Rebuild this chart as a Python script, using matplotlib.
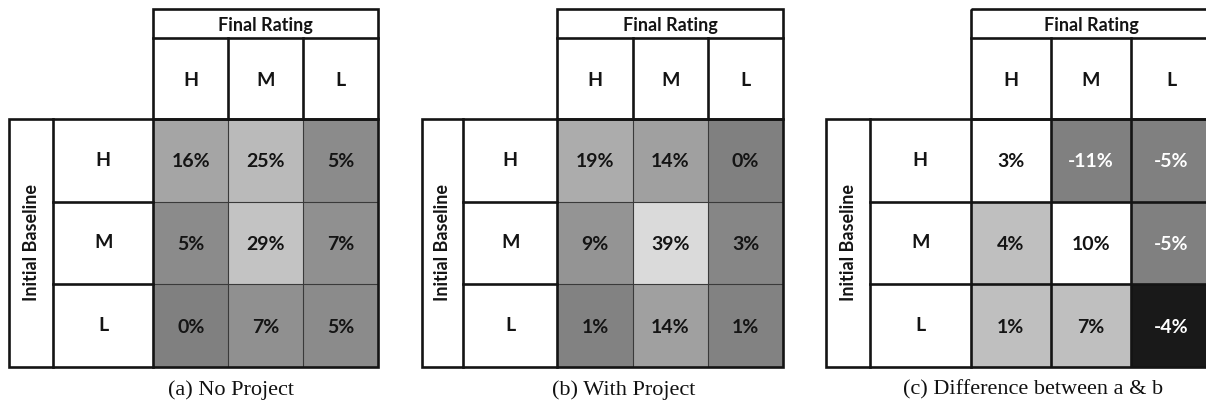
import numpy as np
import matplotlib
matplotlib.use("Agg")
import matplotlib.pyplot as plt
from matplotlib.colors import LinearSegmentedColormap, Normalize, ListedColormap, BoundaryNorm
from matplotlib.patches import Rectangle

# ---------------------------------------------------------------- data
ratings = ["H", "M", "L"]
col_title = "Final Rating"
row_title = "Initial Baseline"

no_project = np.array([[16, 25, 5],
                       [5, 29, 7],
                       [0, 7, 5]])
with_project = np.array([[19, 14, 0],
                         [9, 39, 3],
                         [1, 14, 1]])
difference = np.array([[3, -11, -5],
                       [4, 10, -5],
                       [1, 7, -4]])
# shading class of each cell in the difference table
diff_class = [["same", "down", "down"],
              ["up", "same", "down"],
              ["up", "up", "low"]]

captions = ["(a) No Project", "(b) With Project", "(c) Difference between a & b"]

# ---------------------------------------------------------------- styles
W, H = 1206, 412
TOP, FR_BOT, HDR_BOT, ROW_H, CAP_Y = 9.0, 37.7, 119.0, 82.6, 390.0
panels = [
    dict(outer=9.0, div=53.3, left=153.3, cw=75.0, cap_x=231),
    dict(outer=421.7, div=463.3, left=557.3, cw=75.3, cap_x=624),
    dict(outer=826.0, div=870.0, left=970.5, cw=80.3, cap_x=1033),
]
THICK = 1.9
THIN = 0.8
INK = "#141414"
TITLE_FONT = dict(family=["Lato", "DejaVu Sans"], weight="bold", size=13)
LABEL_FONT = dict(family=["Lato", "DejaVu Sans"], weight="bold", size=14)

gray_cmap = LinearSegmentedColormap.from_list("share", ["#808080", "#ffffff"])
gray_norm = Normalize(vmin=0, vmax=55)
class_order = ["low", "down", "up", "same"]
class_cmap = ListedColormap(["#191919", "#808080", "#bfbfbf", "#ffffff"])
class_norm = BoundaryNorm(np.arange(len(class_order) + 1) - 0.5, len(class_order))

fig = plt.figure(figsize=(W / 100, H / 100), dpi=100)


def draw_panel(p, values, fills, cmap, norm, caption, thick_grid):
    cw = p["cw"]
    bottom_px = HDR_BOT + 3 * ROW_H
    right_px = p["left"] + 3 * cw
    ax = fig.add_axes([p["outer"] / W, 1 - bottom_px / H,
                       (right_px - p["outer"]) / W, (bottom_px - TOP) / H])
    x_outer = (p["outer"] - p["left"]) / cw
    x_div = (p["div"] - p["left"]) / cw
    y_top = (TOP - HDR_BOT) / ROW_H
    y_fr = (FR_BOT - HDR_BOT) / ROW_H
    ax.set_xlim(x_outer, 3)
    ax.set_ylim(3, y_top)
    ax.axis("off")

    n = len(ratings)
    ax.pcolormesh(np.arange(n + 1), np.arange(n + 1), fills, cmap=cmap, norm=norm)

    # inner grid of the value cells
    if thick_grid:
        gkw = dict(color=INK, lw=THICK)
    else:
        gkw = dict(color="#3a3a3a", lw=THIN)
    ax.vlines(np.arange(1, n), 0, n, clip_on=False, zorder=3, **gkw)
    ax.hlines(np.arange(1, n), 0, n, clip_on=False, zorder=3, **gkw)

    tkw = dict(color=INK, lw=THICK, clip_on=False, zorder=4, capstyle="projecting")
    # column header block
    ax.add_patch(Rectangle((0, y_top), n, -y_top, fill=False, ec=INK, lw=THICK,
                           clip_on=False, zorder=4, joinstyle="miter"))
    ax.hlines([y_fr], 0, n, **tkw)
    ax.vlines(np.arange(1, n), y_fr, 0, **tkw)
    # value block border
    ax.add_patch(Rectangle((0, 0), n, n, fill=False, ec=INK, lw=THICK,
                           clip_on=False, zorder=4, joinstyle="miter"))
    # row label column
    ax.hlines(np.arange(0, n + 1), x_div, 0, **tkw)
    # outer title column
    ax.add_patch(Rectangle((x_outer, 0), x_div - x_outer, n, fill=False, ec=INK,
                           lw=THICK, clip_on=False, zorder=4, joinstyle="miter"))

    ax.text(n / 2, (y_top + y_fr) / 2 + 0.02, col_title, ha="center", va="center",
            color=INK, **TITLE_FONT)
    ax.text((x_outer + x_div) / 2, n / 2, row_title, rotation=90, ha="center",
            va="center", color=INK, **TITLE_FONT)
    for k, r in enumerate(ratings):
        ax.text(k + 0.5, y_fr / 2 + 0.03, r, ha="center", va="center", color=INK,
                **LABEL_FONT)
        ax.text(x_div / 2, k + 0.5, r, ha="center", va="center", color=INK,
                **LABEL_FONT)
    for i in range(n):
        for j in range(n):
            v = values[i][j]
            ax.text(j + 0.5, i + 0.52, f"{v}%", ha="center", va="center",
                    color="white" if v < 0 else INK, **LABEL_FONT)

    fig.text(p["cap_x"] / W, 1 - CAP_Y / H, caption, ha="center", va="center",
             family=["Liberation Serif", "DejaVu Serif"], size=16, color="#111111")


draw_panel(panels[0], no_project, no_project, gray_cmap, gray_norm, captions[0], False)
draw_panel(panels[1], with_project, with_project, gray_cmap, gray_norm, captions[1], False)
diff_fill = np.array([[class_order.index(c) for c in row] for row in diff_class])
draw_panel(panels[2], difference, diff_fill, class_cmap, class_norm, captions[2], True)

fig.savefig("out.png", dpi=100, facecolor="white")
